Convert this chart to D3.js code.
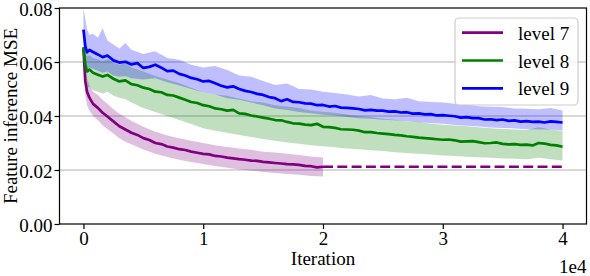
<!DOCTYPE html>
<html>
<head>
<meta charset="utf-8">
<script src="https://cdn.jsdelivr.net/npm/d3@7"></script>
<style>
  body { margin: 0; background: #fff; }
  svg text { font-family: "Liberation Serif", "Times New Roman", Times, "DejaVu Serif", serif; }
</style>
</head>
<body>
<svg id="chart" width="590" height="276"></svg>
<script>
// iterations of the mean curves (level 7 only goes to 2e4)
const meanIters = [0, 150, 300, 500, 800, 1200, 1600, 2000, 2500, 3000, 3500,
  4000, 4500, 5000, 5500, 6000, 6500, 7000, 7500, 8000, 8500, 9000, 9500,
  10000, 10500, 11000, 11500, 12000, 12500, 13000, 13500, 14000, 14500, 15000, 15500,
  16000, 16500, 17000, 17500, 18000, 18500, 19000, 19500, 20000, 20500, 21000, 21500,
  22000, 22500, 23000, 23500, 24000, 24500, 25000, 25500, 26000, 26500, 27000, 27500,
  28000, 28500, 29000, 29500, 30000, 30500, 31000, 31500, 32000, 32500, 33000, 33500,
  34000, 34500, 35000, 35500, 36000, 36500, 37000, 37500, 38000, 38500, 39000, 39500, 40000];

// iterations of the shaded spread
const bandIters = [0, 150, 300, 500, 800, 1200, 1600, 2000, 2500, 3000, 3500, 4000,
  5000, 6000, 7000, 8000, 9000, 10000, 11000, 12000, 13000, 14000, 15000, 16000,
  17000, 18000, 19000, 20000, 21000, 22000, 23000, 24000, 25000, 26000, 27000, 28000,
  29000, 30000, 31000, 32000, 33000, 34000, 35000, 36000, 37000, 38000, 39000, 40000];

const lvl7Mean = [.0650, .0530, .0490, .0468, .0445, .0430, .0412, .0398, .0380, .0362, .0350,
  .0338, .0330, .0318, .0311, .0300, .0296, .0287, .0283, .0277, .0274, .0268, .0264,
  .0260, .0258, .0252, .0250, .0246, .0243, .0240, .0238, .0235, .0234, .0230, .0228,
  .0226, .0224, .0222, .0221, .0219, .0215, .0214, .0210, .0212];
const lvl7Hi = [.0660, .0580, .0540, .0515, .0490, .0478, .0460, .0445, .0425, .0408, .0395, .0382,
  .0360, .0342, .0328, .0318, .0308, .0300, .0292, .0285, .0280, .0275, .0268, .0265,
  .0260, .0256, .0250, .0246];
const lvl7Lo = [.0630, .0480, .0440, .0420, .0400, .0385, .0365, .0352, .0335, .0318, .0305, .0295,
  .0276, .0260, .0248, .0238, .0230, .0222, .0215, .0208, .0202, .0198, .0193, .0189,
  .0185, .0182, .0178, .0176];
// level 7 stopped early, final value carried on as a dashed line
const lvl7DashIters = [20000, 40000];

const lvl8Mean = [.0655, .0590, .0565, .0572, .0560, .0553, .0546, .0552, .0538, .0528, .0532,
  .0518, .0514, .0505, .0500, .0490, .0488, .0478, .0476, .0468, .0460, .0452, .0448,
  .0440, .0436, .0428, .0425, .0420, .0423, .0410, .0408, .0402, .0398, .0394, .0390,
  .0385, .0384, .0378, .0373, .0372, .0368, .0366, .0371, .0360, .0359, .0356, .0351,
  .0350, .0349, .0346, .0340, .0340, .0337, .0335, .0333, .0330, .0328, .0325, .0323,
  .0320, .0318, .0316, .0314, .0312, .0313, .0310, .0305, .0306, .0307, .0303, .0299,
  .0300, .0302, .0297, .0295, .0296, .0293, .0294, .0291, .0300, .0298, .0293, .0291, .0286];
const lvl8Hi = [.0665, .0640, .0620, .0625, .0615, .0610, .0605, .0610, .0598, .0590, .0595, .0580,
  .0565, .0548, .0535, .0522, .0505, .0488, .0480, .0475, .0465, .0455, .0450, .0440,
  .0435, .0430, .0420, .0416, .0412, .0406, .0400, .0396, .0390, .0386, .0380, .0378,
  .0372, .0368, .0365, .0362, .0358, .0355, .0352, .0350, .0348, .0358, .0350, .0345];
const lvl8Lo = [.0600, .0530, .0500, .0510, .0495, .0490, .0483, .0490, .0475, .0468, .0462, .0450,
  .0430, .0415, .0400, .0385, .0370, .0355, .0345, .0338, .0330, .0322, .0315, .0308,
  .0302, .0297, .0292, .0288, .0284, .0280, .0277, .0273, .0270, .0266, .0263, .0260,
  .0257, .0254, .0252, .0249, .0247, .0245, .0243, .0242, .0240, .0245, .0240, .0235];

const lvl9Mean = [.0720, .0660, .0636, .0645, .0637, .0628, .0618, .0624, .0606, .0598, .0601,
  .0591, .0596, .0578, .0582, .0590, .0579, .0566, .0568, .0556, .0550, .0541, .0536,
  .0528, .0530, .0521, .0512, .0506, .0510, .0500, .0493, .0489, .0482, .0478, .0470,
  .0466, .0455, .0462, .0452, .0451, .0447, .0446, .0440, .0441, .0435, .0437, .0431,
  .0430, .0428, .0426, .0421, .0423, .0420, .0420, .0416, .0417, .0413, .0414, .0409,
  .0410, .0406, .0407, .0402, .0403, .0401, .0399, .0394, .0396, .0392, .0392, .0387,
  .0388, .0385, .0387, .0382, .0384, .0379, .0381, .0378, .0379, .0376, .0380, .0378, .0376];
const lvl9Hi = [.0800, .0760, .0720, .0700, .0705, .0690, .0725, .0680, .0665, .0650, .0670, .0645,
  .0630, .0640, .0615, .0608, .0590, .0580, .0585, .0570, .0550, .0545, .0530, .0515,
  .0520, .0500, .0498, .0490, .0485, .0480, .0472, .0478, .0465, .0462, .0468, .0455,
  .0452, .0450, .0445, .0443, .0436, .0434, .0433, .0428, .0427, .0425, .0430, .0420];
const lvl9Lo = [.0650, .0590, .0575, .0580, .0575, .0568, .0560, .0565, .0550, .0545, .0548, .0540,
  .0535, .0540, .0525, .0513, .0500, .0488, .0480, .0466, .0460, .0450, .0440, .0428,
  .0422, .0415, .0410, .0405, .0402, .0396, .0392, .0390, .0386, .0384, .0381, .0377,
  .0374, .0371, .0367, .0364, .0361, .0357, .0356, .0354, .0351, .0350, .0350, .0347];

const seriesNames = ['level 7', 'level 8', 'level 9'];
const seriesColors = ['#800080', '#008000', '#0000ff'];
const yTicks = [0, 0.02, 0.04, 0.06, 0.08];
const xTicks = [0, 10000, 20000, 30000, 40000];

const series = [
  { mean: lvl7Mean, hi: lvl7Hi, lo: lvl7Lo },
  { mean: lvl8Mean, hi: lvl8Hi, lo: lvl8Lo },
  { mean: lvl9Mean, hi: lvl9Hi, lo: lvl9Lo },
].map((s, k) => ({
  name: seriesNames[k],
  color: seriesColors[k],
  points: s.mean.map((m, i) => ({ it: meanIters[i], v: m })),
  band: s.hi.map((h, i) => ({ it: bandIters[i], hi: h, lo: s.lo[i] }))
}));

const plotL = 59.5, plotR = 586.5, plotT = 8, plotB = 224;
const fontSize = 19;
const serif = 'Liberation Serif, Times New Roman, Times, DejaVu Serif, serif';

const svg = d3.select('#chart');

const x = d3.scaleLinear().domain([-2000, 42000]).range([plotL, plotR]);
const y = d3.scaleLinear().domain([0, 0.08]).range([plotB, plotT]);

// grid
svg.append('g')
  .selectAll('line')
  .data(yTicks.slice(1, -1))
  .join('line')
  .attr('x1', plotL).attr('x2', plotR)
  .attr('y1', d => y(d)).attr('y2', d => y(d))
  .attr('stroke', '#b0b0b0')
  .attr('stroke-width', 1.2);

const area = d3.area()
  .x(d => x(d.it))
  .y0(d => y(d.lo))
  .y1(d => y(d.hi));

const line = d3.line()
  .x(d => x(d.it))
  .y(d => y(d.v));

const plot = svg.append('g');

series.forEach(s => {
  plot.append('path')
    .datum(s.band)
    .attr('d', area)
    .attr('fill', s.color)
    .attr('fill-opacity', 0.25)
    .attr('stroke', 'none');
});

series.forEach(s => {
  plot.append('path')
    .datum(s.points)
    .attr('d', line)
    .attr('fill', 'none')
    .attr('stroke', s.color)
    .attr('stroke-width', 2.7)
    .attr('stroke-linejoin', 'round');
});

// dashed continuation of level 7
const last7 = lvl7Mean[lvl7Mean.length - 1];
plot.append('path')
  .datum(lvl7DashIters.map(it => ({ it: it, v: last7 })))
  .attr('d', line)
  .attr('fill', 'none')
  .attr('stroke', seriesColors[0])
  .attr('stroke-width', 2.7)
  .attr('stroke-dasharray', '10,4.3');

// axes
const yAxis = svg.append('g')
  .attr('transform', `translate(${plotL},0)`)
  .call(d3.axisLeft(y).tickValues(yTicks).tickFormat(d3.format('.2f'))
    .tickSize(5).tickPadding(2));
const xAxis = svg.append('g')
  .attr('transform', `translate(0,${plotB})`)
  .call(d3.axisBottom(x).tickValues(xTicks).tickFormat(d => d / 1e4)
    .tickSize(5).tickPadding(2.5));

[xAxis, yAxis].forEach(a => {
  a.attr('font-family', serif).attr('font-size', fontSize);
  a.select('.domain').remove();
  a.selectAll('line').attr('stroke', '#000').attr('stroke-width', 1.2);
  a.selectAll('text').attr('fill', '#000');
});
yAxis.selectAll('text').attr('dy', '0.42em');

svg.append('rect')
  .attr('x', plotL).attr('y', plotT)
  .attr('width', plotR - plotL).attr('height', plotB - plotT)
  .attr('fill', 'none')
  .attr('stroke', '#000')
  .attr('stroke-width', 1.2);

const labels = svg.append('g')
  .attr('font-family', serif)
  .attr('font-size', fontSize);

labels.append('text')
  .attr('x', x(20000))
  .attr('y', 265)
  .attr('text-anchor', 'middle')
  .text('Iteration');

labels.append('text')
  .attr('x', plotR)
  .attr('y', 273)
  .attr('text-anchor', 'end')
  .text('1e4');

labels.append('text')
  .attr('transform', `translate(17,${(plotT + plotB) / 2}) rotate(-90)`)
  .attr('text-anchor', 'middle')
  .text('Feature inference MSE');

// legend
const legend = svg.append('g')
  .attr('font-family', serif)
  .attr('font-size', fontSize);
legend.append('rect')
  .attr('x', 455).attr('y', 18)
  .attr('width', 123).attr('height', 87)
  .attr('rx', 4)
  .attr('fill', '#fff')
  .attr('fill-opacity', 0.8)
  .attr('stroke', '#cccccc')
  .attr('stroke-width', 1.2);

const entries = legend.selectAll('g.entry')
  .data(series)
  .join('g')
  .attr('class', 'entry')
  .attr('transform', (d, i) => `translate(0,${32.7 + i * 27.8})`);
entries.append('line')
  .attr('x1', 462).attr('x2', 503)
  .attr('stroke', d => d.color)
  .attr('stroke-width', 2.7);
entries.append('text')
  .attr('x', 518)
  .attr('y', 7)
  .text(d => d.name);
</script>
</body>
</html>
